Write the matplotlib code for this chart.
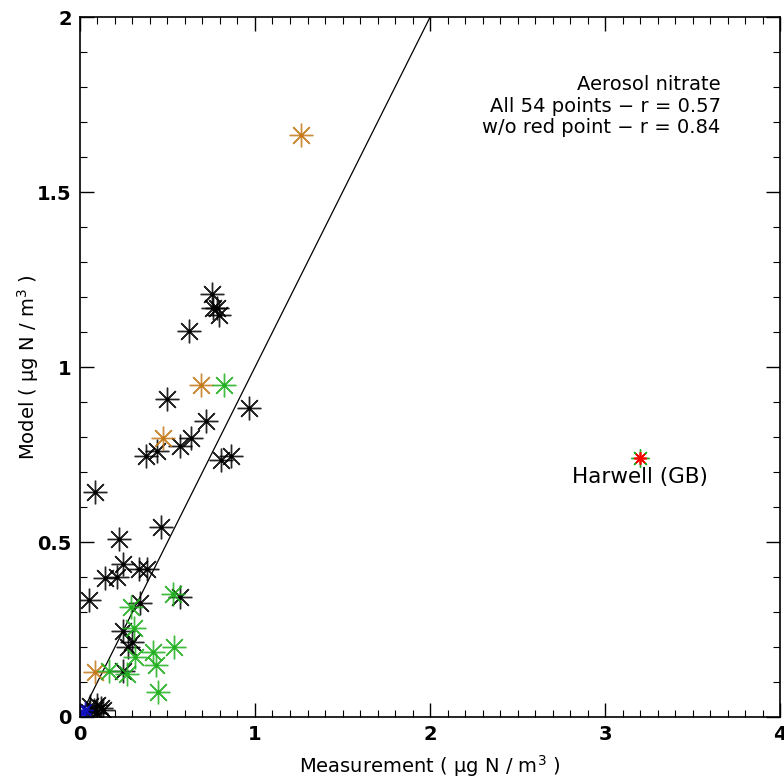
import numpy as np
import matplotlib
matplotlib.use('Agg')
import matplotlib.pyplot as plt
from matplotlib.ticker import MultipleLocator

plt.rcParams['font.family'] = ['DejaVu Sans']

# measurement / model pairs (ug N / m3), grouped by colour
black_x = [0.752, 0.762, 0.785, 0.796, 0.625, 0.967, 0.720, 0.495, 0.571, 0.634,
           0.442, 0.377, 0.804, 0.861, 0.086, 0.463, 0.225, 0.244, 0.143, 0.210,
           0.339, 0.385, 0.053, 0.571, 0.343, 0.244, 0.276, 0.295, 0.244,
           0.06, 0.08, 0.10, 0.12, 0.09, 0.05, 0.13]
black_y = [1.210, 1.170, 1.170, 1.149, 1.103, 0.882, 0.847, 0.910, 0.775, 0.796,
           0.761, 0.747, 0.734, 0.747, 0.644, 0.544, 0.508, 0.437, 0.398, 0.401,
           0.422, 0.422, 0.334, 0.344, 0.327, 0.247, 0.201, 0.213, 0.131,
           0.03, 0.02, 0.035, 0.025, 0.01, 0.015, 0.02]
orange_x = [1.263, 0.691, 0.472, 0.086]
orange_y = [1.663, 0.950, 0.796, 0.130]
green_x = [0.825, 0.530, 0.291, 0.310, 0.314, 0.419, 0.539, 0.434, 0.448, 0.168, 0.270]
green_y = [0.950, 0.351, 0.315, 0.253, 0.172, 0.185, 0.201, 0.149, 0.072, 0.131, 0.122]
blue_x = [0.02, 0.03]
blue_y = [0.01, 0.02]
red_x = [3.2]
red_y = [0.739]

x_ticks = [0, 1, 2, 3, 4]
y_ticks = [0, 0.5, 1, 1.5, 2]
y_tick_labels = ['0', '0.5', '1', '1.5', '2']

fig = plt.figure(figsize=(7.84, 7.83), dpi=100)
ax = fig.add_axes([0.102, 0.0843, 0.893, 0.8937])

ast = (8, 2, 0)


def stars(xs, ys, color, size=17):
    ax.plot(xs, ys, linestyle='none', marker=ast, markersize=size,
            markeredgecolor=color, markeredgewidth=1.0, alpha=0.85)
    ax.plot(xs, ys, linestyle='none', marker='o', markersize=3,
            color=color, markeredgewidth=0)


ax.plot([0, 2], [0, 2], color='black', lw=0.9)
stars(black_x, black_y, 'black')
stars(orange_x, orange_y, '#c47a1a')
stars(green_x, green_y, '#22b022')
stars(blue_x, blue_y, '#1010c0', size=12)
ax.plot(red_x, red_y, linestyle='none', marker=ast, markersize=13,
        markeredgecolor='#22b022', markeredgewidth=1.0)
ax.plot(red_x, red_y, linestyle='none', marker=ast, markersize=9,
        markeredgecolor='red', markeredgewidth=1.2)

ax.text(3.2, 0.715, 'Harwell (GB)', ha='center', va='top', fontsize=15.5)

ax.text(3.66, 1.834, 'Aerosol nitrate\nAll 54 points \u2212 r = 0.57\nw/o red point \u2212 r = 0.84',
        ha='right', va='top', fontsize=14, linespacing=1.17)

ax.set_xlim(0, 4)
ax.set_ylim(0, 2)
ax.set_xticks(x_ticks)
ax.set_xticklabels([str(t) for t in x_ticks])
ax.set_yticks(y_ticks)
ax.set_yticklabels(y_tick_labels)
ax.xaxis.set_minor_locator(MultipleLocator(0.1))
ax.yaxis.set_minor_locator(MultipleLocator(0.1))
ax.tick_params(which='both', direction='in', top=True, right=True, labelsize=14, pad=6)
ax.tick_params(which='major', length=10, width=1)
ax.tick_params(which='minor', length=5, width=0.8)
for lab in ax.get_xticklabels() + ax.get_yticklabels():
    lab.set_fontweight('bold')
for s in ax.spines.values():
    s.set_linewidth(1.2)

ax.set_xlabel('Measurement ( \u03bcg N / m$^3$ )', fontsize=14, labelpad=6)
ax.set_ylabel('Model ( \u03bcg N / m$^3$ )', fontsize=14)
ax.yaxis.set_label_coords(-0.056, 0.5)

fig.savefig('out.png', dpi=100)
